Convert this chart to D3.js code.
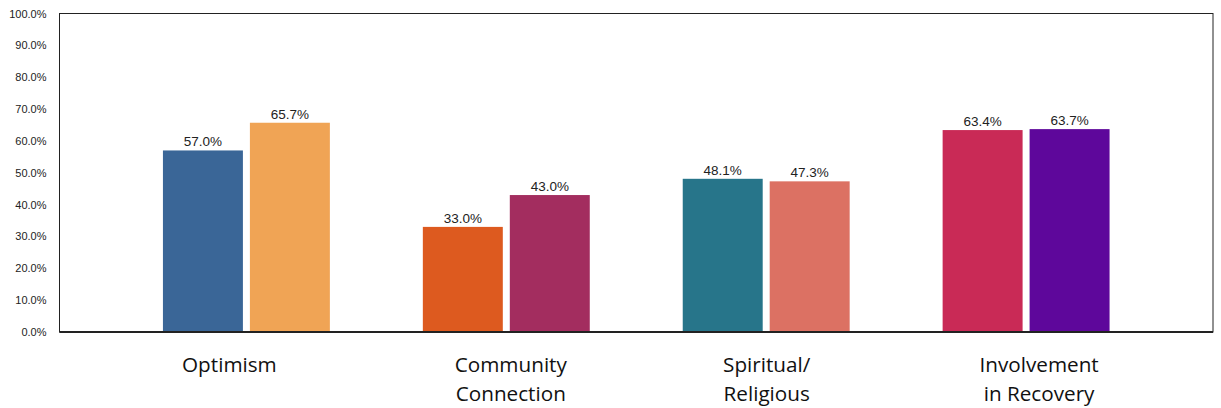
<!DOCTYPE html>
<html><head><meta charset="utf-8">
<script src="https://cdn.jsdelivr.net/npm/d3@7"></script>
<style>body{margin:0;background:#fff}</style>
</head><body>
<svg id="c" width="1221" height="408"></svg>
<script>
const categories = [["Optimism"], ["Community", "Connection"], ["Spiritual/", "Religious"], ["Involvement", "in Recovery"]];
const seriesA = [57.0, 33.0, 48.1, 63.4];
const seriesB = [65.7, 43.0, 47.3, 63.7];
const colorsA = ["#3a6697", "#dd5a1f", "#27758a", "#c92a56"];
const colorsB = ["#f0a455", "#a32d5f", "#dc7163", "#5e079b"];
const yTicks = [0,10,20,30,40,50,60,70,80,90,100];
// horizontal nudges of the category text boxes (layout, not data)
const labelDx = [-17, 4.5, 0.5, 13];

const svg = d3.select("#c");
const L = 59.5, R = 1213, T = 13.5, B = 332;
const x0 = d3.scaleBand().domain(categories.map((d,i)=>i)).range([L, R]).paddingInner(0.3577).paddingOuter(0.398);
const x1 = d3.scaleBand().domain([0,1]).range([0, x0.bandwidth()]).paddingInner(7/87);
const y = d3.scaleLinear().domain([0,100]).range([B, T]);

svg.append("rect").attr("x", L).attr("y", T).attr("width", R-L).attr("height", B-T)
  .attr("fill", "none").attr("stroke", "#222").attr("stroke-width", 1);

const ya = svg.append("g").attr("transform", `translate(${L},0)`)
  .call(d3.axisLeft(y).tickValues(yTicks).tickSize(0).tickPadding(13).tickFormat(d => d.toFixed(1) + "%"));
ya.select(".domain").remove();
ya.selectAll("text").attr("font-family", "Liberation Sans, Arial, sans-serif").attr("font-size", 11).attr("fill", "#222");

const data = categories.map((c,i)=>({i, vals:[seriesA[i], seriesB[i]], cols:[colorsA[i], colorsB[i]]}));
const g = svg.append("g");
data.forEach(d => {
  d.vals.forEach((v,k) => {
    const bx = x0(d.i) + x1(k);
    g.append("rect").attr("x", bx).attr("y", y(v)).attr("width", x1.bandwidth()).attr("height", B - y(v)).attr("fill", d.cols[k]);
    g.append("text").attr("x", bx + x1.bandwidth()/2).attr("y", y(v) - 4).attr("text-anchor", "middle")
      .attr("font-family", "Liberation Sans, Arial, sans-serif").attr("font-size", 13.5).attr("fill", "#222")
      .text(v.toFixed(1) + "%");
  });
});

svg.append("line").attr("x1", L).attr("x2", R).attr("y1", B).attr("y2", B).attr("stroke", "#222").attr("stroke-width", 2);

categories.forEach((c,i) => {
  const cx = x0(i) + x0.bandwidth()/2 + labelDx[i];
  const t = svg.append("text").attr("text-anchor", "middle")
    .attr("font-family", "Open Sans, sans-serif").attr("font-size", 20.7).attr("fill", "#111");
  c.forEach((line, j) => t.append("tspan").attr("x", cx).attr("y", 372 + j*28.5).text(line));
});
</script>
</body></html>
